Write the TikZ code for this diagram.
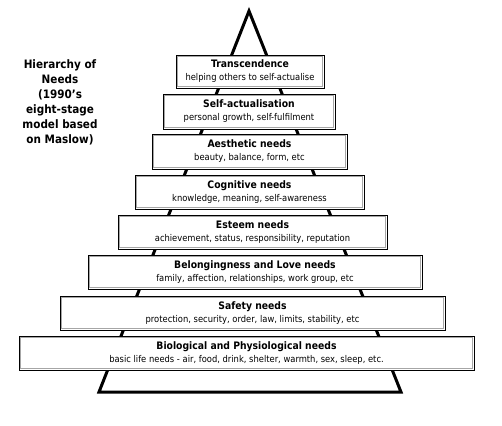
\documentclass[tikz,border=0pt]{standalone}
\usepackage{fontspec}
\setmainfont{DejaVu Sans Condensed}
\newcommand{\ttl}[1]{{\bfseries\fontsize{10.3}{13}\selectfont #1}}
\begin{document}
\begin{tikzpicture}[x=1pt,y=-1pt,
  needbox/.style={draw=black,line width=0.9pt,fill=white,rectangle,inner sep=0pt,
    align=center,font=\fontsize{9.3}{13}\selectfont,
    path picture={\draw[gray!70,line width=1pt]
      ([shift={(1.4pt,-1.4pt)}]path picture bounding box.north west) rectangle
      ([shift={(-1.4pt,1.4pt)}]path picture bounding box.south east);}},
  headtext/.style={align=center,font=\bfseries\fontsize{11.6}{15}\selectfont,inner sep=0pt}]
\useasboundingbox[fill=white] (0,0) rectangle (502,425);
\coordinate (apex) at (249,11);
\coordinate (bl) at (99,392);
\coordinate (br) at (401,392);
\draw[line width=3pt,line join=miter] (apex) -- (br) -- (bl) -- cycle;
\node[headtext] (head) at (60,102) {Hierarchy of\\Needs\\(1990{\char"27}s\\eight-stage\\model based\\on Maslow)};
\node[needbox,minimum width=148pt,minimum height=33pt] (t1) at (250,71.5)
  {\ttl{Transcendence}\\helping others to self-actualise};
\node[needbox,minimum width=172pt,minimum height=35pt] (t2) at (249,111.5)
  {\ttl{Self-actualisation}\\personal growth, self-fulfilment};
\node[needbox,minimum width=195pt,minimum height=35pt] (t3) at (249.5,151.5)
  {\ttl{Aesthetic needs}\\beauty, balance, form, etc};
\node[needbox,minimum width=229pt,minimum height=34pt] (t4) at (249.5,192)
  {\ttl{Cognitive needs}\\knowledge, meaning, self-awareness};
\node[needbox,minimum width=269pt,minimum height=34pt] (t5) at (252.5,232)
  {\ttl{Esteem needs}\\achievement, status, responsibility, reputation};
\node[needbox,minimum width=334pt,minimum height=34pt] (t6) at (255,272)
  {\ttl{Belongingness and Love needs}\\family, affection, relationships, work group, etc};
\node[needbox,minimum width=385pt,minimum height=34pt] (t7) at (252.5,313)
  {\ttl{Safety needs}\\protection, security, order, law, limits, stability, etc};
\node[needbox,minimum width=455pt,minimum height=34pt] (t8) at (246.5,353)
  {\ttl{Biological and Physiological needs}\\basic life needs - air, food, drink, shelter, warmth, sex, sleep, etc.};
\end{tikzpicture}
\end{document}
